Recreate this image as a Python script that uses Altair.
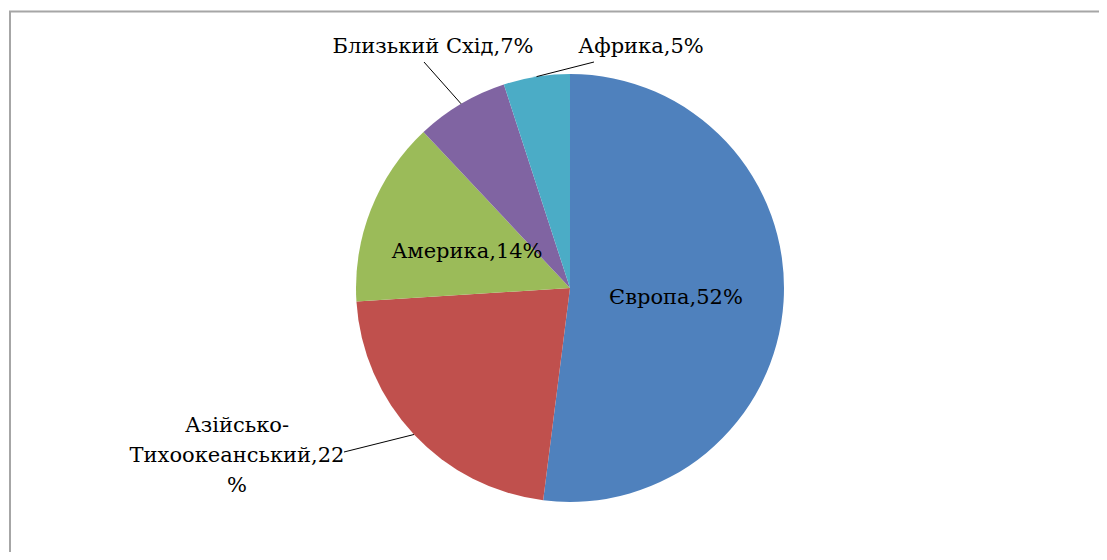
import math
import altair as alt
import pandas as pd

# ---- data ----
regions = ["Європа", "Азійсько-Тихоокеанський", "Америка", "Близький Схід", "Африка"]
shares = [52, 22, 14, 7, 5]
labels = ["Європа,52%", "Азійсько-\nТихоокеанський,22\n%", "Америка,14%", "Близький Схід,7%", "Африка,5%"]
colors = ["#4F81BD", "#C0504D", "#9BBB59", "#8064A2", "#4BACC6"]

# ---- layout (chart pixel coordinates) ----
W, H = 1091, 544
CX, CY, R = 561, 280, 214
FONT = "DejaVu Serif"
FS = 21
# label anchors (first line centre) and leader-line end points
label_pos = {
    "Європа": (667, 290),
    "Азійсько-Тихоокеанський": (228, 418),
    "Америка": (458, 244),
    "Близький Схід": (424, 39),
    "Африка": (632, 39),
}
leader_end = {
    "Азійсько-Тихоокеанський": (335, 444),
    "Близький Схід": (415, 54),
    "Африка": (585, 54),
}

df = pd.DataFrame({"region": regions, "share": shares, "order": list(range(len(regions)))})

total = sum(shares)
cum = 0.0
lab_rows, rule_rows = [], []
for reg, s, lab in zip(regions, shares, labels):
    mid = (cum + s / 2) / total * 2 * math.pi
    cum += s
    lx, ly = label_pos[reg]
    lab_rows.append({"label": lab, "x": lx, "y": ly})
    if reg in leader_end:
        ex, ey = leader_end[reg]
        sx = CX + R * math.sin(mid)
        sy = CY - R * math.cos(mid)
        rule_rows.append({"x": sx, "y": sy, "x2": ex, "y2": ey})

lab_df = pd.DataFrame(lab_rows)
rule_df = pd.DataFrame(rule_rows)

pie = alt.Chart(df).mark_arc(strokeWidth=0).encode(
    theta=alt.Theta("share:Q", stack=True),
    color=alt.Color("region:N", scale=alt.Scale(domain=regions, range=colors), sort=regions, legend=None),
    order=alt.Order("order:Q"),
    x=alt.value(CX),
    y=alt.value(CY),
    radius=alt.value(R),
)

rules = alt.Chart(rule_df).mark_rule(color="#000000", strokeWidth=1).encode(
    x=alt.X("x:Q", scale=None), y=alt.Y("y:Q", scale=None),
    x2="x2:Q", y2="y2:Q",
)

texts = alt.Chart(lab_df).mark_text(
    font=FONT, fontSize=FS, color="#000000", align="center", baseline="middle",
    lineBreak="\n", lineHeight=30,
).encode(
    x=alt.X("x:Q", scale=None), y=alt.Y("y:Q", scale=None), text="label:N",
)

border_df = pd.DataFrame({"x": [0, 1], "y": [3.5, 3.5], "x2": [W, 1], "y2": [3.5, H]})
border = alt.Chart(border_df).mark_rule(color="#A6A6A6", strokeWidth=2).encode(
    x=alt.X("x:Q", scale=None), y=alt.Y("y:Q", scale=None),
    x2="x2:Q", y2="y2:Q",
)

chart = alt.layer(border, pie, rules, texts).properties(
    width=W, height=H,
    autosize=alt.AutoSizeParams(type="fit", contains="padding"),
    padding=0,
).configure_view(strokeWidth=0).configure_text(font=FONT)

chart.save("out.html", embed_options={"renderer": "svg", "actions": False})
